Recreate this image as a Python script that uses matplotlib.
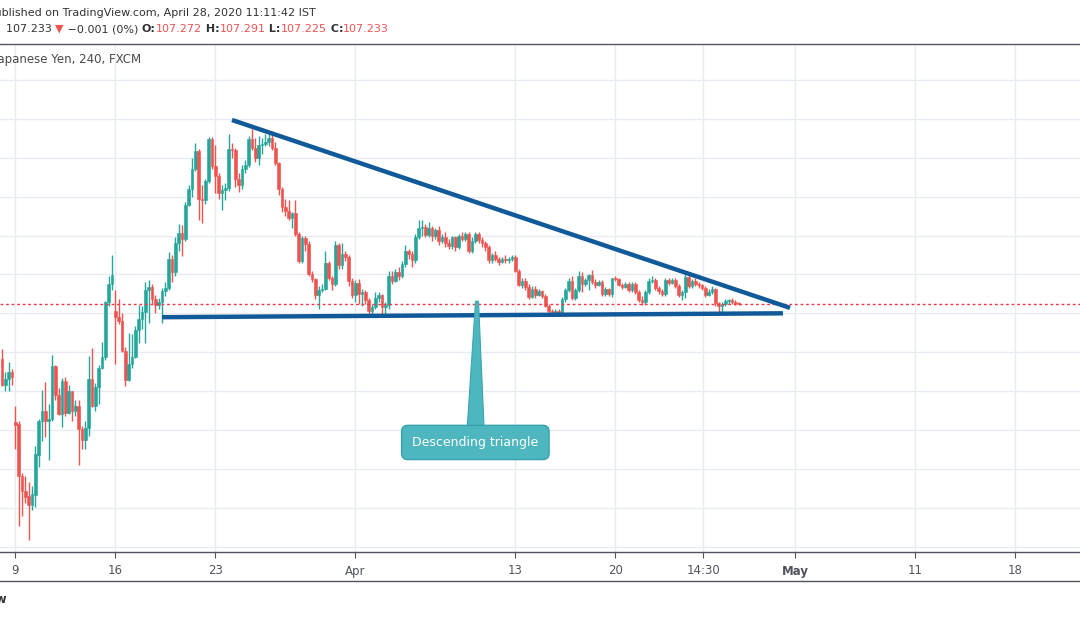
import matplotlib
matplotlib.use("Agg")
import matplotlib.pyplot as plt
from matplotlib.lines import Line2D
from matplotlib.patches import Polygon

# USD/JPY 4h candles (FXCM), Mar 6 -> Apr 28 2020
opens = [105.83, 105.16, 105.31, 105.49, 104.21, 104.16, 102.83, 102.44, 102.31, 102.06,
         102.34, 103.37, 104.24, 104.49, 104.24, 104.29, 105.65, 104.90, 104.42, 105.26,
         104.45, 104.99, 104.50, 104.62, 104.02, 103.75, 104.05, 105.31, 104.62, 105.10,
         105.59, 105.87, 107.29, 107.76, 107.06, 106.91, 106.79, 106.02, 105.28, 105.70,
         105.87, 106.58, 106.85, 107.04, 107.59, 107.68, 107.38, 107.22, 107.30, 107.58,
         107.66, 108.39, 108.05, 108.82, 109.07, 108.92, 109.79, 110.20, 110.72, 111.17,
         109.93, 109.90, 110.39, 111.47, 110.78, 110.54, 110.08, 110.17, 110.22, 111.23,
         111.19, 110.46, 110.29, 110.72, 110.80, 111.49, 111.24, 110.98, 111.33, 111.35,
         111.41, 111.50, 111.26, 110.87, 110.20, 109.72, 109.62, 109.45, 109.57, 109.04,
         108.34, 108.93, 108.79, 108.00, 107.89, 107.48, 107.60, 107.63, 108.30, 107.92,
         107.75, 108.76, 108.23, 108.53, 108.45, 107.84, 107.48, 107.77, 107.50, 107.55,
         107.35, 107.05, 107.15, 107.40, 107.48, 107.17, 107.22, 107.97, 107.84, 108.07,
         107.95, 108.27, 108.60, 108.53, 108.36, 108.96, 109.20, 109.23, 109.02, 109.20,
         108.98, 109.15, 108.85, 108.96, 108.80, 108.72, 108.95, 108.70, 109.00, 108.90,
         109.05, 108.60, 108.86, 109.04, 108.88, 108.80, 108.70, 108.36, 108.50, 108.40,
         108.33, 108.40, 108.36, 108.40, 108.45, 108.10, 107.73, 107.84, 107.68, 107.43,
         107.63, 107.48, 107.57, 107.45, 107.20, 107.06, 107.00, 107.07, 106.97, 107.37,
         107.60, 107.84, 107.40, 107.60, 107.97, 107.75, 107.85, 107.98, 107.80, 107.73,
         107.80, 107.50, 107.62, 107.50, 107.92, 107.88, 107.73, 107.68, 107.75, 107.60,
         107.76, 107.55, 107.34, 107.30, 107.55, 107.83, 107.86, 107.65, 107.58, 107.50,
         107.86, 107.78, 107.86, 107.70, 107.47, 107.55, 107.94, 107.70, 107.82, 107.76,
         107.72, 107.65, 107.47, 107.55, 107.62, 107.26, 107.18, 107.24, 107.31, 107.34,
         107.29, 107.272]
highs = [106.09, 105.50, 105.75, 105.57, 104.62, 104.23, 102.89, 102.82, 102.66, 102.56,
         103.59, 104.28, 105.03, 105.24, 104.67, 105.93, 105.68, 105.07, 105.33, 105.35,
         105.16, 105.01, 104.77, 104.76, 104.11, 104.24, 105.89, 106.12, 105.22, 105.67,
         106.25, 107.32, 107.97, 108.51, 107.59, 107.36, 107.00, 106.13, 106.49, 106.47,
         106.67, 107.22, 107.18, 107.80, 107.86, 107.75, 107.48, 107.40, 107.66, 107.80,
         108.58, 108.50, 108.95, 109.30, 109.28, 109.85, 110.30, 111.00, 111.37, 111.22,
         110.30, 110.45, 111.53, 111.52, 111.32, 110.60, 110.30, 110.35, 111.60, 111.37,
         111.25, 110.60, 110.80, 110.95, 111.55, 111.75, 111.50, 111.56, 111.50, 111.60,
         111.69, 111.60, 111.40, 110.90, 110.25, 109.95, 109.90, 109.60, 109.90, 109.10,
         109.00, 109.00, 108.85, 108.10, 107.90, 107.70, 107.75, 108.60, 108.35, 107.95,
         108.85, 108.80, 108.80, 108.60, 108.50, 107.90, 107.85, 107.87, 107.62, 107.60,
         107.40, 107.25, 107.55, 107.55, 107.50, 107.30, 108.10, 108.10, 108.15, 108.20,
         108.35, 108.75, 108.65, 108.60, 109.05, 109.40, 109.39, 109.30, 109.35, 109.25,
         109.20, 109.25, 109.05, 109.10, 108.90, 109.00, 109.00, 109.05, 109.10, 109.10,
         109.10, 108.95, 109.10, 109.10, 108.95, 108.85, 108.75, 108.55, 108.60, 108.45,
         108.45, 108.50, 108.45, 108.50, 108.50, 108.15, 107.90, 107.90, 107.75, 107.70,
         107.70, 107.62, 107.60, 107.50, 107.25, 107.10, 107.12, 107.10, 107.42, 107.65,
         107.90, 107.95, 107.65, 108.10, 108.05, 107.90, 108.00, 108.11, 107.88, 107.85,
         107.85, 107.68, 107.65, 107.92, 107.95, 107.92, 107.78, 107.80, 107.80, 107.80,
         107.80, 107.60, 107.45, 107.60, 107.90, 107.95, 107.90, 107.70, 107.62, 107.90,
         107.90, 107.92, 107.90, 107.75, 107.60, 108.08, 108.00, 107.88, 107.90, 107.80,
         107.75, 107.70, 107.62, 107.70, 107.66, 107.30, 107.30, 107.36, 107.38, 107.40,
         107.35, 107.291]
lows = [105.12, 104.99, 105.01, 105.16, 103.52, 101.54, 101.80, 102.13, 101.18, 101.95,
        102.01, 103.06, 103.72, 103.83, 103.22, 104.22, 104.77, 104.39, 104.09, 104.36,
        104.41, 104.22, 104.35, 103.09, 103.51, 103.51, 103.85, 104.59, 104.50, 104.67,
        105.57, 105.80, 107.20, 107.60, 105.70, 106.73, 106.00, 105.13, 105.25, 105.60,
        105.85, 106.23, 106.59, 106.23, 106.76, 107.24, 107.02, 107.10, 106.75, 107.44,
        107.60, 107.80, 107.96, 108.60, 108.47, 108.85, 109.75, 110.00, 110.65, 109.40,
        109.33, 109.80, 110.35, 110.70, 110.10, 109.95, 109.65, 109.90, 110.15, 111.00,
        110.25, 110.12, 110.20, 110.60, 110.75, 111.20, 110.90, 110.80, 111.10, 111.30,
        111.30, 111.20, 110.80, 110.05, 109.60, 109.50, 109.40, 109.20, 109.00, 108.30,
        108.30, 108.60, 107.95, 107.80, 107.37, 107.12, 107.55, 107.60, 107.85, 107.60,
        107.70, 108.15, 108.15, 108.35, 107.70, 107.40, 107.30, 107.25, 107.20, 107.25,
        106.94, 106.95, 107.10, 107.30, 106.95, 106.95, 107.10, 107.75, 107.80, 107.85,
        107.90, 108.20, 108.40, 108.20, 108.30, 108.90, 109.00, 108.95, 108.95, 108.85,
        108.90, 108.75, 108.80, 108.70, 108.65, 108.65, 108.60, 108.65, 108.85, 108.85,
        108.55, 108.55, 108.80, 108.80, 108.70, 108.60, 108.30, 108.30, 108.35, 108.25,
        108.30, 108.30, 108.30, 108.35, 108.05, 107.70, 107.65, 107.60, 107.38, 107.40,
        107.40, 107.45, 107.40, 107.15, 106.98, 106.93, 106.97, 106.93, 106.95, 107.30,
        107.55, 107.33, 107.35, 107.55, 107.55, 107.70, 107.60, 107.75, 107.65, 107.70,
        107.45, 107.45, 107.45, 107.42, 107.82, 107.70, 107.62, 107.65, 107.55, 107.55,
        107.50, 107.30, 107.22, 107.25, 107.50, 107.78, 107.60, 107.50, 107.45, 107.45,
        107.72, 107.75, 107.65, 107.42, 107.35, 107.40, 107.65, 107.65, 107.70, 107.65,
        107.60, 107.42, 107.45, 107.50, 107.20, 107.03, 107.02, 107.20, 107.25, 107.24,
        107.22, 107.225]
closes = [105.16, 105.31, 105.49, 105.35, 104.14, 102.83, 102.44, 102.29, 102.06, 102.36,
          103.39, 104.24, 104.49, 104.24, 104.29, 105.65, 104.90, 104.42, 105.26, 104.45,
          104.99, 104.50, 104.62, 104.02, 103.75, 104.05, 105.31, 104.62, 105.10, 105.59,
          105.87, 107.29, 107.76, 107.98, 106.91, 106.79, 106.02, 105.28, 105.70, 105.87,
          106.58, 106.85, 107.04, 107.59, 107.68, 107.38, 107.22, 107.30, 107.58, 107.66,
          108.39, 108.05, 108.82, 109.07, 108.92, 109.79, 110.20, 110.72, 111.17, 109.93,
          109.90, 110.39, 111.47, 110.78, 110.54, 110.08, 110.17, 110.22, 111.23, 111.19,
          110.46, 110.29, 110.72, 110.80, 111.49, 111.24, 110.98, 111.33, 111.35, 111.41,
          111.50, 111.26, 110.87, 110.20, 109.72, 109.62, 109.45, 109.57, 109.04, 108.34,
          108.93, 108.79, 108.00, 107.89, 107.48, 107.60, 107.63, 108.30, 107.92, 107.75,
          108.76, 108.23, 108.53, 108.45, 107.84, 107.48, 107.77, 107.50, 107.55, 107.35,
          107.05, 107.15, 107.40, 107.48, 107.17, 107.22, 107.97, 107.84, 108.07, 107.95,
          108.27, 108.60, 108.53, 108.36, 108.96, 109.20, 109.23, 109.02, 109.20, 108.98,
          109.15, 108.85, 108.96, 108.80, 108.72, 108.95, 108.70, 109.00, 108.90, 109.05,
          108.60, 108.86, 109.04, 108.88, 108.80, 108.70, 108.36, 108.50, 108.40, 108.33,
          108.40, 108.36, 108.40, 108.45, 108.10, 107.73, 107.84, 107.68, 107.43, 107.63,
          107.48, 107.57, 107.45, 107.20, 107.06, 107.00, 107.07, 106.97, 107.37, 107.60,
          107.84, 107.40, 107.60, 107.97, 107.75, 107.85, 107.98, 107.80, 107.73, 107.80,
          107.50, 107.62, 107.50, 107.92, 107.88, 107.73, 107.68, 107.75, 107.60, 107.76,
          107.55, 107.34, 107.30, 107.55, 107.83, 107.86, 107.65, 107.58, 107.50, 107.86,
          107.78, 107.86, 107.70, 107.47, 107.55, 107.94, 107.70, 107.82, 107.76, 107.72,
          107.65, 107.47, 107.55, 107.62, 107.26, 107.18, 107.24, 107.31, 107.34, 107.29,
          107.27, 107.233]

last_price = 107.233
tick_bars = [4, 34, 64, 106, 154, 184, 210.4, 238, 274, 304]
tick_labels = ["9", "16", "23", "Apr", "13", "20", "14:30", "May", "11", "18"]
price_grid = list(range(101, 114))

# drawings on the chart: (bar, price)
upper_line = [(69, 111.97), (236.4, 107.14)]
lower_line = [(48, 106.90), (234.3, 107.00)]
callout_tip = (142.5, 107.31)
callout_pos = (142.0, 103.68)
callout_text = "Descending triangle"

# legend line: (text, colour, weight)
ohlc_pieces = [("107.233 ", "#333333", "normal"), ("\u25bc", "#ef5350", "normal"),
               (" \u22120.001 (0%) ", "#333333", "normal"), ("O:", "#333333", "bold"),
               ("107.272", "#ef5350", "normal"), (" H:", "#333333", "bold"),
               ("107.291", "#ef5350", "normal"), (" L:", "#333333", "bold"),
               ("107.225", "#ef5350", "normal"), (" C:", "#333333", "bold"),
               ("107.233", "#ef5350", "normal")]

UP = "#26a69a"
DOWN = "#ef5350"
TXT = "#333333"
AXC = "#50535e"
GRID = "#e6ecf2"
W, H = 1080, 618


def px(x, y):
    # pixel position (from top left) -> figure fraction
    return x / W, 1 - y / H


fig = plt.figure(figsize=(W / 100, H / 100), dpi=100)
fig.patch.set_facecolor("white")

top, bottom = 44, 552
ax = fig.add_axes([0, 1 - bottom / H, 1, (bottom - top) / H])
ax.set_xlim(-0.6, 323.4)
ax.set_ylim(100.864, 113.923)

for p in price_grid:
    ax.axhline(p, color=GRID, lw=1, zorder=0)
for t in tick_bars:
    ax.axvline(t, color=GRID, lw=1, zorder=0)

# candles
for i in range(len(opens)):
    o, h, l, c = opens[i], highs[i], lows[i], closes[i]
    col = UP if c >= o else DOWN
    ax.vlines(i, l, h, color=col, lw=1.0, zorder=2)
    ax.bar(i, max(abs(c - o), 0.025), bottom=min(o, c), width=0.8,
           color=col, edgecolor=col, linewidth=0.4, zorder=3)

ax.axhline(last_price, color="#f23645", lw=1, ls=(0, (2, 2)), zorder=4)

# trendlines
for ln in (upper_line, lower_line):
    ax.plot([ln[0][0], ln[1][0]], [ln[0][1], ln[1][1]], color="#115a9a",
            lw=3.2, solid_capstyle="butt", zorder=5)

# callout
box_top = 104.10
tail = Polygon([(callout_tip[0] - 2.9, box_top), (callout_tip[0] + 2.1, box_top),
                (callout_tip[0] + 0.45, callout_tip[1]), (callout_tip[0] - 0.45, callout_tip[1])],
               closed=True, fc="#4db6bf", ec="#3aa5ae", lw=0.8, zorder=6)
ax.add_patch(tail)
ax.text(callout_pos[0], callout_pos[1], callout_text, color="white", fontsize=9,
        ha="center", va="center", zorder=7,
        bbox=dict(boxstyle="round,pad=0.85,rounding_size=0.5", fc="#4db6bf",
                  ec="#36a3ac", lw=1))

# axes styling
for s in ("top", "left", "right"):
    ax.spines[s].set_visible(False)
ax.spines["bottom"].set_color(AXC)
ax.spines["bottom"].set_linewidth(1)
ax.set_yticks([])
ax.set_xticks(tick_bars)
ax.set_xticklabels(tick_labels)
ax.tick_params(axis="x", length=4, width=0.8, color=AXC, labelcolor="#50535e",
               labelsize=8.5, pad=5)
for lab in ax.get_xticklabels():
    if lab.get_text() == "May":
        lab.set_fontweight("bold")

# frame lines
fig.add_artist(Line2D([0, 1], [1 - 43.5 / H] * 2, color=AXC, lw=1))
fig.add_artist(Line2D([0, 1], [1 - 581 / H] * 2, color=AXC, lw=1))

# header texts (left edge is cropped in the reference)
fig.text(*px(-12, 13), "Published on TradingView.com, April 28, 2020 11:11:42 IST",
         fontsize=8, color=TXT, va="center", ha="left")
fig.text(*px(-5, 60), "Japanese Yen, 240, FXCM", fontsize=8.5, color="#4a4a4a",
         va="center", ha="left")
fig.text(*px(8, 600), "TradingView", fontsize=8.5, color=TXT, fontweight="bold",
         va="center", ha="right")

# OHLC line, pieces chained one after another
s, col, wt = ohlc_pieces[0]
prev = fig.text(*px(6, 29), s, fontsize=8, color=col, fontweight=wt,
                va="center", ha="left")
for s, col, wt in ohlc_pieces[1:]:
    prev = ax.annotate(s, xy=(1, 0.5), xycoords=prev, va="center", ha="left",
                       fontsize=8, color=col, fontweight=wt, annotation_clip=False)

fig.savefig("out.png", dpi=100)
